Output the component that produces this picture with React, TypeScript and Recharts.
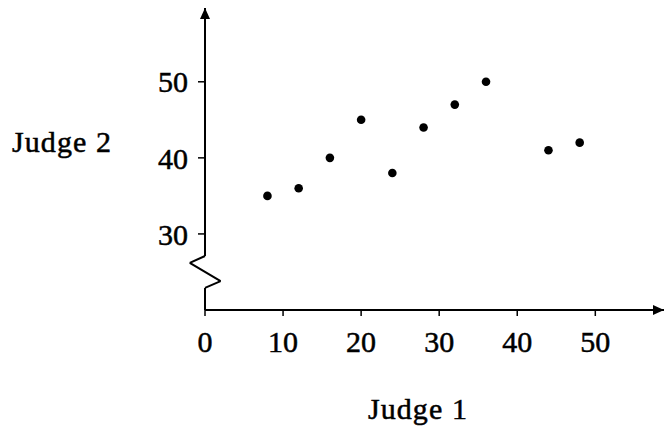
import React from 'react';
import { ScatterChart, Scatter, XAxis, YAxis, ReferenceLine, ReferenceDot, Label } from 'recharts';

// scores given by the two judges
const judge1 = [8, 12, 16, 20, 24, 28, 32, 36, 44, 48];
const judge2 = [35, 36, 40, 45, 38, 44, 47, 50, 41, 42];

const xTicks = [0, 10, 20, 30, 40, 50];
const yTicks = [30, 40, 50];

const xMax = 58.8;
const yMin = 20;
const yMax = 59.7;

// broken y axis: straight run, zigzag, straight run up to the arrow
const yAxisPath = [
    { x: 0, y: 20 },
    { x: 0, y: 22.9 },
    { x: 2.0, y: 23.8 },
    { x: -1.95, y: 26.2 },
    { x: 0, y: 27.1 },
    { x: 0, y: yMax },
];

const data = judge1.map((j1, i) => ({ j1, j2: judge2[i] }));

const serif = 'Liberation Serif';
const tickStyle = { fontSize: 30, fill: '#000', fontFamily: serif, stroke: '#000', strokeWidth: 0.5 };

const Dot = (props: any) => <circle cx={props.cx} cy={props.cy} r={4.3} fill="#000" />;

const UpArrow = (props: any) => (
    <path d={`M${props.cx},${props.cy} L${props.cx - 5},${props.cy + 11} L${props.cx + 5},${props.cy + 11} Z`} fill="#000" />
);

const RightArrow = (props: any) => (
    <path d={`M${props.cx},${props.cy} L${props.cx - 11},${props.cy - 5} L${props.cx - 11},${props.cy + 5} Z`} fill="#000" />
);

const AxisTitle = ({ x, y, anchor, text }: { x: number; y: number; anchor: string; text: string }) => (
    <text x={x} y={y} textAnchor={anchor} fontSize={30} fontFamily={serif} letterSpacing={1.1} fill="#000" stroke="#000" strokeWidth={0.5}>
        {text}
    </text>
);

export default function App() {
    return (
        <div style={{ position: 'absolute', left: 0, top: 0, background: '#fff' }}>
            <ScatterChart width={665} height={428} margin={{ top: 8, right: 1, left: 145, bottom: 8 }}>
                <XAxis
                    type="number"
                    dataKey="j1"
                    domain={[0, xMax]}
                    ticks={xTicks}
                    allowDataOverflow
                    height={110}
                    axisLine={{ stroke: '#000', strokeWidth: 2 }}
                    tickLine={{ stroke: '#000', strokeWidth: 1.5 }}
                    tickSize={6}
                    tickMargin={15}
                    tick={tickStyle}
                >
                    <Label content={() => <AxisTitle x={418} y={419} anchor="middle" text="Judge 1" />} />
                </XAxis>
                <YAxis
                    type="number"
                    dataKey="j2"
                    domain={[yMin, yMax]}
                    ticks={yTicks}
                    allowDataOverflow
                    width={60}
                    axisLine={false}
                    tickLine={{ stroke: '#000', strokeWidth: 1.5 }}
                    tickSize={7}
                    tickMargin={10}
                    tick={tickStyle}
                >
                    <Label content={() => <AxisTitle x={12} y={152} anchor="start" text="Judge 2" />} />
                </YAxis>
                {yAxisPath.slice(1).map((p, i) => (
                    <ReferenceLine
                        key={i}
                        segment={[yAxisPath[i], p]}
                        stroke="#000"
                        strokeWidth={2}
                        ifOverflow="visible"
                    />
                ))}
                <ReferenceDot x={0} y={yMax} ifOverflow="visible" shape={UpArrow} />
                <ReferenceDot x={xMax} y={yMin} ifOverflow="visible" shape={RightArrow} />
                <Scatter data={data} shape={Dot} isAnimationActive={false} />
            </ScatterChart>
        </div>
    );
}
